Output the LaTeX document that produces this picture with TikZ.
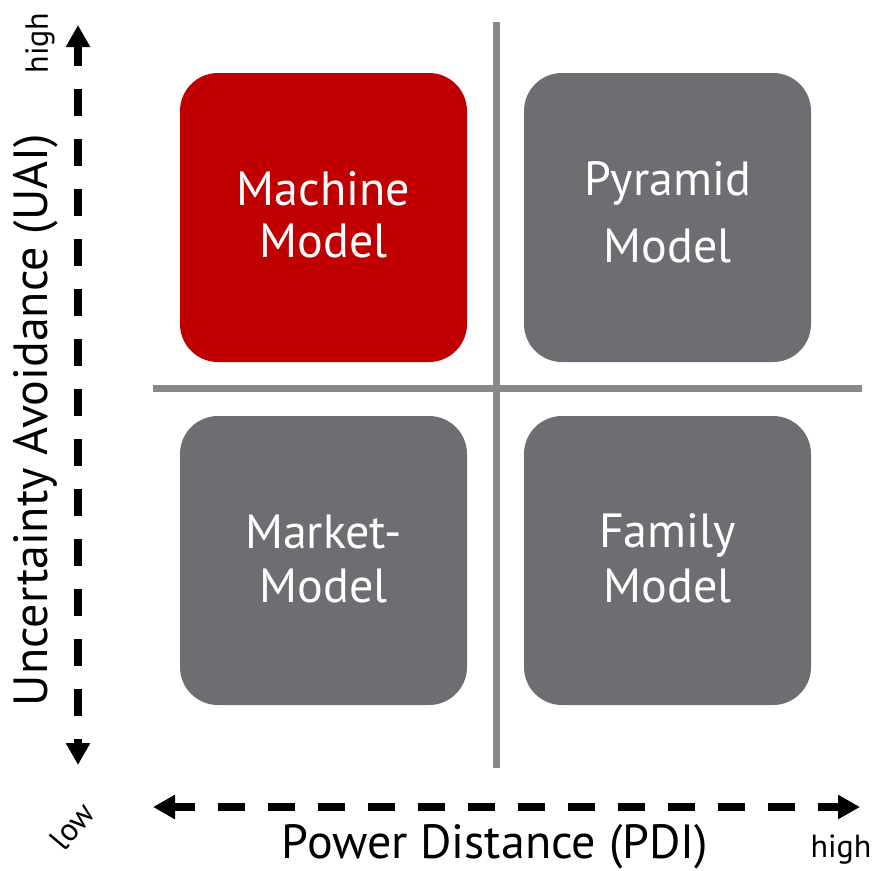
\documentclass[tikz,border=0pt]{standalone}
\usepackage{fontspec}
\setmainfont{PT Sans}
\usetikzlibrary{arrows.meta}
\definecolor{quadred}{HTML}{C00000}
\definecolor{quadgray}{HTML}{6D6E71}
\definecolor{gridgray}{HTML}{888888}
\begin{document}
\begin{tikzpicture}[x=1pt,y=-1pt,
  quad/.style={draw=none, rounded corners=38pt, minimum width=287pt,
    minimum height=289pt, inner sep=0pt},
  qtext/.style={text=white, font=\fontsize{48}{48}\selectfont, anchor=base, inner sep=0pt},
  gridline/.style={draw=gridgray, line width=7pt},
  axisarrow/.style={line width=8pt, dash pattern=on 27pt off 23pt,
    {Triangle[length=22pt,width=23pt]}-{Triangle[length=22pt,width=23pt]}},
  axislabel/.style={font=\fontsize{48}{48}\selectfont, anchor=base, inner sep=0pt},
  endlabel/.style={font=\fontsize{32}{32}\selectfont, inner sep=0pt}]
\useasboundingbox (0,0) rectangle (875,870);

% quadrant separators
\coordinate (vtop) at (496,22);
\coordinate (vbot) at (496,768);
\coordinate (hleft) at (153,388);
\coordinate (hright) at (862,388);
\draw[gridline] (vtop) -- (vbot);
\draw[gridline] (hleft) -- (hright);

% quadrants
\node[quad, fill=quadred]  (machine) at (323.5,217.5) {};
\node[quad, fill=quadgray] (pyramid) at (667.5,217.5) {};
\node[quad, fill=quadgray] (market)  at (323.5,560.5) {};
\node[quad, fill=quadgray] (family)  at (667.5,560.5) {};

\node[qtext] (machine1) at (323.5,205) {Machine};
\node[qtext] (machine2) at (323.5,257) {Model};
\node[qtext] (pyramid1) at (667.5,195) {Pyramid};
\node[qtext] (pyramid2) at (667.5,262) {Model};
\node[qtext] (market1)  at (323.5,548) {Market-};
\node[qtext] (market2)  at (323.5,602) {Model};
\node[qtext] (family1)  at (667.5,547) {Family};
\node[qtext] (family2)  at (667.5,602) {Model};

% axes
\coordinate (ytop) at (78,25);
\coordinate (ybot) at (78,765);
\coordinate (xleft) at (153,807);
\coordinate (xright) at (860,807);
\draw[axisarrow, dash phase=7pt] (ytop) -- (ybot);
\draw[axisarrow, dash phase=6pt] (xleft) -- (xright);

% axis labels
\node[axislabel] (pdi) at (495,858) {Power Distance (PDI)};
\node[axislabel, rotate=90] (uai) at (47,420) {Uncertainty Avoidance (UAI)};
\node[endlabel, rotate=90] (yhigh) at (40,43) {high};
\node[endlabel] (xhigh) at (841,850) {high};
\node[endlabel, rotate=50] (low) at (72,826) {low};
\end{tikzpicture}
\end{document}
